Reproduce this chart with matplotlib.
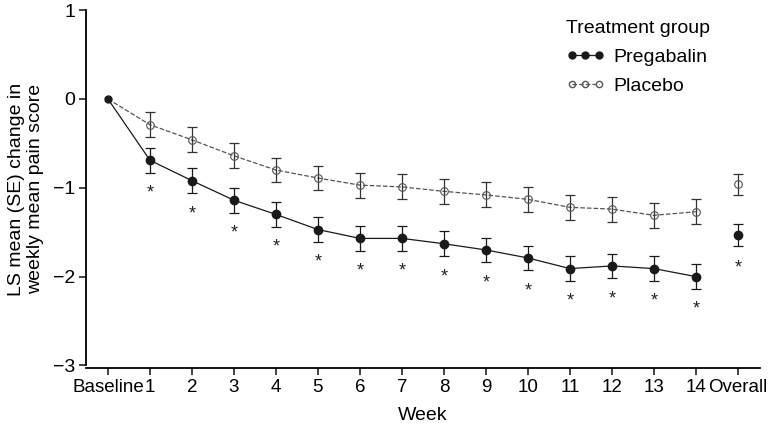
import matplotlib
matplotlib.use("Agg")
import matplotlib.pyplot as plt
import numpy as np

plt.rcParams["font.family"] = ["Liberation Sans", "DejaVu Sans"]

# Weeks: Baseline, 1..14, Overall
tick_labels = ["Baseline"] + [str(w) for w in range(1, 15)] + ["Overall"]

pregabalin_mean = [0.0, -0.69, -0.92, -1.14, -1.30, -1.47, -1.57, -1.57, -1.63,
                   -1.70, -1.79, -1.91, -1.88, -1.91, -2.00, -1.53]
pregabalin_se = [0.0, 0.14, 0.14, 0.14, 0.14, 0.14, 0.14, 0.14, 0.14,
                 0.14, 0.14, 0.14, 0.14, 0.14, 0.14, 0.12]
placebo_mean = [0.0, -0.29, -0.46, -0.64, -0.80, -0.89, -0.97, -0.99, -1.04,
                -1.08, -1.13, -1.22, -1.24, -1.31, -1.27, -0.96]
placebo_se = [0.0, 0.14, 0.14, 0.14, 0.14, 0.14, 0.14, 0.14, 0.14,
              0.14, 0.14, 0.14, 0.14, 0.14, 0.14, 0.12]
significant = [False] + [True] * 15

x = np.arange(len(tick_labels))
trend = slice(0, 15)  # baseline through week 14 are connected

fig = plt.figure(figsize=(7.76, 4.25), dpi=100)
ax = fig.add_axes([0.111, 0.134, 0.868, 0.842])

pm = np.array(pregabalin_mean)
ps = np.array(pregabalin_se)
qm = np.array(placebo_mean)
qs = np.array(placebo_se)

dark = "#1a1a1a"
grey = "#555555"

# placebo
ax.plot(x[trend], qm[trend], linestyle="--", color=grey, linewidth=0.9, zorder=2)
ax.errorbar(x[1:], qm[1:], yerr=qs[1:], fmt="none", ecolor="#333333",
            elinewidth=0.9, capsize=3.5, capthick=0.9, zorder=3)
ax.plot(x[1:], qm[1:], linestyle="none", marker="o", markersize=5.5,
        markerfacecolor="none", markeredgecolor=grey, markeredgewidth=0.8, zorder=4)

# pregabalin
ax.plot(x[trend], pm[trend], linestyle="-", color=dark, linewidth=0.9, zorder=2)
ax.errorbar(x[1:], pm[1:], yerr=ps[1:], fmt="none", ecolor=dark,
            elinewidth=0.9, capsize=3.5, capthick=0.9, zorder=3)
ax.plot(x[1:], pm[1:], linestyle="none", marker="o", markersize=6, color=dark, zorder=4)
ax.plot(x[0], pm[0], marker="o", markersize=5, color=dark, zorder=5)

for xi, m, sig in zip(x, pm, significant):
    if sig:
        ax.text(xi, m - 0.37, "*", ha="center", va="center", fontsize=13, color="#222222")

# legend proxies
h_preg, = ax.plot([], [], linestyle="-", color=dark, linewidth=0.9,
                  marker="o", markersize=5)
h_plac, = ax.plot([], [], linestyle="--", color=grey, linewidth=0.9, marker="o",
                  markersize=4.5, markerfacecolor="none", markeredgecolor=grey)
leg = ax.legend([h_preg, h_plac], ["Pregabalin", "Placebo"], title="Treatment group",
                loc="upper left", bbox_to_anchor=(0.692, 1.012), frameon=False,
                numpoints=3, handlelength=2.0, handletextpad=0.45,
                fontsize=14, title_fontsize=14, labelspacing=0.6, borderpad=0.2)
leg._legend_box.align = "left"

ax.set_xlim(-0.52, 15.52)
ax.set_ylim(-3.03, 1.0)
ax.set_xticks(x)
ax.set_xticklabels(tick_labels, fontsize=13.5)
ax.set_yticks([1, 0, -1, -2, -3])
ax.set_yticklabels(["1", "0", "\u22121", "\u22122", "\u22123"], fontsize=14)
ax.tick_params(direction="out", length=5, width=1.2, color="#222222", pad=3)
ax.spines["top"].set_visible(False)
ax.spines["right"].set_visible(False)
ax.spines["left"].set_linewidth(1.3)
ax.spines["bottom"].set_linewidth(1.3)
ax.spines["left"].set_bounds(-3.0, 1.0)
ax.set_xlabel("Week", fontsize=14, labelpad=8)
ax.set_ylabel("LS mean (SE) change in\nweekly mean pain score", fontsize=14, labelpad=6)

fig.savefig("out.png", dpi=100)
